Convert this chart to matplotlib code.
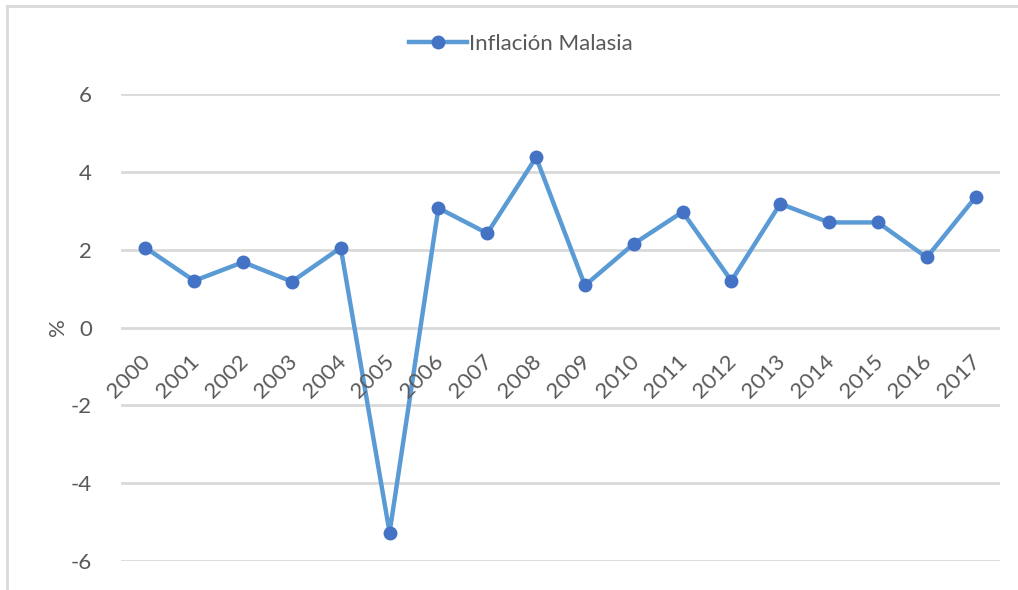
import matplotlib
matplotlib.use("Agg")
import matplotlib.pyplot as plt
import matplotlib.transforms as mtransforms
from matplotlib.lines import Line2D

years = ["2000", "2001", "2002", "2003", "2004", "2005", "2006", "2007", "2008",
         "2009", "2010", "2011", "2012", "2013", "2014", "2015", "2016", "2017"]
inflation = [2.05, 1.20, 1.68, 1.18, 2.05, -5.27, 3.07, 2.42, 4.37,
             1.08, 2.15, 2.97, 1.20, 3.18, 2.70, 2.70, 1.80, 3.35]
yticks = [-6, -4, -2, 0, 2, 4, 6]
series_name = "Inflación Malasia"

plt.rcParams['font.family'] = ['Lato', 'DejaVu Sans']
W, H = 1018, 590
fig = plt.figure(figsize=(W / 100, H / 100), dpi=100)
text_color = "#595959"
grid_color = "#D9D9D9"
line_color = "#5B9BD5"
marker_color = "#4472C4"
fs = 16

left, right, top, bottom = 121, 1000, 94, 561
ax = fig.add_axes([left / W, 1 - bottom / H, (right - left) / W, (bottom - top) / H])
x = list(range(len(years)))
ax.plot(x, inflation, color=line_color, lw=3.2, marker='o', markersize=9,
        markerfacecolor=marker_color, markeredgecolor=marker_color,
        clip_on=False, zorder=3)
ax.set_xlim(-0.5, len(years) - 0.5)
ax.set_ylim(-6, 6)
ax.set_yticks(yticks)
ax.set_yticklabels([str(v) for v in yticks])
ax.tick_params(axis='y', length=0, pad=21, labelsize=fs, labelcolor=text_color)
ax.set_xticks([])
for s in ax.spines.values():
    s.set_visible(False)
for v in yticks:
    ax.axhline(v, color=grid_color, lw=2, zorder=1)

off = mtransforms.offset_copy(ax.transData, fig=fig, x=9, y=-24, units='dots')
for xi, lab in zip(x, years):
    ax.text(xi, 0, lab, transform=off, rotation=45, ha='right', va='top',
            fontsize=fs, color=text_color)

fig.text(58 / W, 1 - 327 / H, "%", rotation=90, ha='center', va='center',
         fontsize=fs, color=text_color)

handle = Line2D([], [], color=line_color, lw=3.2, marker='o', markersize=9,
                markerfacecolor=marker_color, markeredgecolor=marker_color)
fig.legend([handle], [series_name], loc='center', bbox_to_anchor=(521 / W, 1 - 44 / H),
           frameon=False, fontsize=fs, labelcolor=text_color, handlelength=2.6,
           handletextpad=0.1)

# chart border (partially visible)
fig.add_artist(Line2D([7 / W, 7 / W], [0, 1 - 6 / H], transform=fig.transFigure,
                      color=grid_color, lw=2))
fig.add_artist(Line2D([7 / W, 1], [1 - 6 / H, 1 - 6 / H], transform=fig.transFigure,
                      color=grid_color, lw=2))

fig.savefig("out.png", dpi=100, facecolor='white')
